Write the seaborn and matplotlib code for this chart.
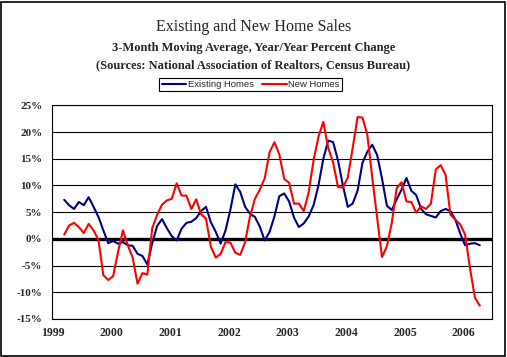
import numpy as np
import pandas as pd
import seaborn as sns
import matplotlib.pyplot as plt
from matplotlib.patches import Rectangle

# monthly data, Mar 1999 - Apr 2006 (3-month moving avg, y/y % change)
months = pd.date_range('1999-03-01', '2006-04-01', freq='MS')
existing = [7.3, 6.3, 5.6, 6.9, 6.3, 7.8, 6.0, 4.1, 1.6, -0.8,
            -0.4, -0.9, -0.6, -1.2, -1.3, -2.8, -3.2, -4.8, -0.8, 2.4,
            3.7, 2.0, 0.5, -0.3, 1.9, 3.0, 3.2, 3.9, 5.2, 6.0,
            3.1, 1.3, -0.9, 1.6, 5.5, 10.2, 8.8, 6.0, 4.7, 4.1,
            2.3, -0.3, 1.3, 4.2, 8.0, 8.5, 7.0, 4.0, 2.2, 2.9,
            4.2, 6.3, 10.0, 15.0, 18.4, 18.1, 14.7, 10.0, 6.0, 6.6,
            9.0, 14.2, 16.3, 17.6, 15.7, 11.3, 6.2, 5.4, 7.4, 9.2,
            11.4, 9.0, 8.2, 5.6, 4.6, 4.3, 4.0, 5.2, 5.6, 5.2,
            3.6, 1.0, -1.2, -0.9, -0.8, -1.2]
new_homes = [0.8, 2.5, 3.0, 2.2, 1.1, 2.8, 1.6, -0.2, -6.8, -7.7,
             -7.0, -2.5, 1.6, -1.2, -3.5, -8.4, -6.4, -6.7, 2.0, 4.5,
             6.4, 7.2, 7.5, 10.4, 8.1, 8.1, 5.6, 7.4, 4.6, 3.8,
             -1.5, -3.5, -2.8, -0.6, -0.7, -2.6, -3.0, -0.6, 4.2, 7.5,
             9.2, 11.3, 16.2, 18.1, 15.8, 11.2, 10.5, 6.6, 6.6, 5.2,
             8.7, 14.7, 19.1, 21.9, 17.0, 14.3, 9.7, 9.6, 11.5, 17.0,
             22.8, 22.7, 19.5, 11.5, 4.0, -3.4, -1.4, 3.0, 9.5, 10.6,
             7.0, 6.9, 4.9, 6.1, 5.6, 6.6, 13.0, 13.8, 12.0, 4.5,
             3.6, 2.7, 0.8, -5.5, -11.0, -12.5]
years = [1999, 2000, 2001, 2002, 2003, 2004, 2005, 2006]
y_ticks = [-15, -10, -5, 0, 5, 10, 15, 20, 25]

sns.set_style('white')
plt.rcParams['font.family'] = ['Liberation Serif', 'DejaVu Serif']

# decimal-year position of each monthly point
x = months.year + (months.month - 0.5) / 12
df = pd.DataFrame({'x': x, 'Existing Homes': existing, 'New Homes': new_homes})
df = df.melt(id_vars='x', var_name='series', value_name='pct')

fig = plt.figure(figsize=(5.07, 3.57), dpi=100)
W, H = 507, 357
ax = fig.add_axes([52 / W, 1 - 319 / H, 440 / W, (319 - 105.3) / H])

# gridlines + thick zero line under the data
for v in y_ticks:
    ax.axhline(v, color='black', lw=0.8, zorder=1)
ax.axhline(0, color='black', lw=2.4, zorder=1.5)

sns.lineplot(data=df, x='x', y='pct', hue='series',
             palette={'Existing Homes': '#000080', 'New Homes': '#ff0000'},
             linewidth=1.5, ax=ax, zorder=3)

ax.set_xlim(1999, 2006.5)
ax.set_ylim(-15, 25)
ax.set_xlabel('')
ax.set_ylabel('')

ax.set_yticks(y_ticks)
ax.set_yticklabels([f'{v}%' for v in y_ticks], fontweight='bold', fontsize=8)
ax.set_xticks([yr + 0.02 for yr in years])
ax.set_xticklabels([str(yr) for yr in years], fontweight='bold', fontsize=8.5)
ax.set_xticks(np.arange(1999, 2006.5 + 1e-6, 1 / 12), minor=True)
ax.tick_params(axis='y', direction='out', length=3, width=0.8, pad=4, color='black')
ax.tick_params(axis='x', which='both', direction='out', length=3, width=0.8,
               pad=6, color='black')
ax.tick_params(axis='x', which='major', length=0)

for s in ax.spines.values():
    s.set_color('black')
    s.set_linewidth(0.8)

# legend above the plot, boxed
sns.move_legend(ax, loc='center', bbox_to_anchor=(250.5 / W, 1 - 84.5 / H),
                bbox_transform=fig.transFigure, ncol=2, title=None,
                frameon=True, fancybox=False, edgecolor='black',
                framealpha=1, borderpad=0.25, handlelength=2.6,
                handletextpad=0.15, columnspacing=0.9,
                prop={'family': 'Liberation Sans', 'size': 6.8})
ax.get_legend().get_frame().set_linewidth(0.8)
for line in ax.get_legend().get_lines():
    line.set_linewidth(1.5)

fig.text(0.5, 1 - 27 / H, 'Existing and New Home Sales', ha='center', va='center',
         fontsize=11.5)
fig.text(0.5, 1 - 48 / H, '3-Month Moving Average, Year/Year Percent Change',
         ha='center', va='center', fontsize=9, fontweight='bold')
fig.text(0.5, 1 - 65 / H, '(Sources: National Association of Realtors, Census Bureau)',
         ha='center', va='center', fontsize=9, fontweight='bold')

# outer frame around the whole chart
fig.patches.append(Rectangle((1 / W, 1 / H), 504 / W, 354 / H, transform=fig.transFigure,
                             fill=False, edgecolor='black', lw=1.2))

fig.savefig('out.png', dpi=100)
